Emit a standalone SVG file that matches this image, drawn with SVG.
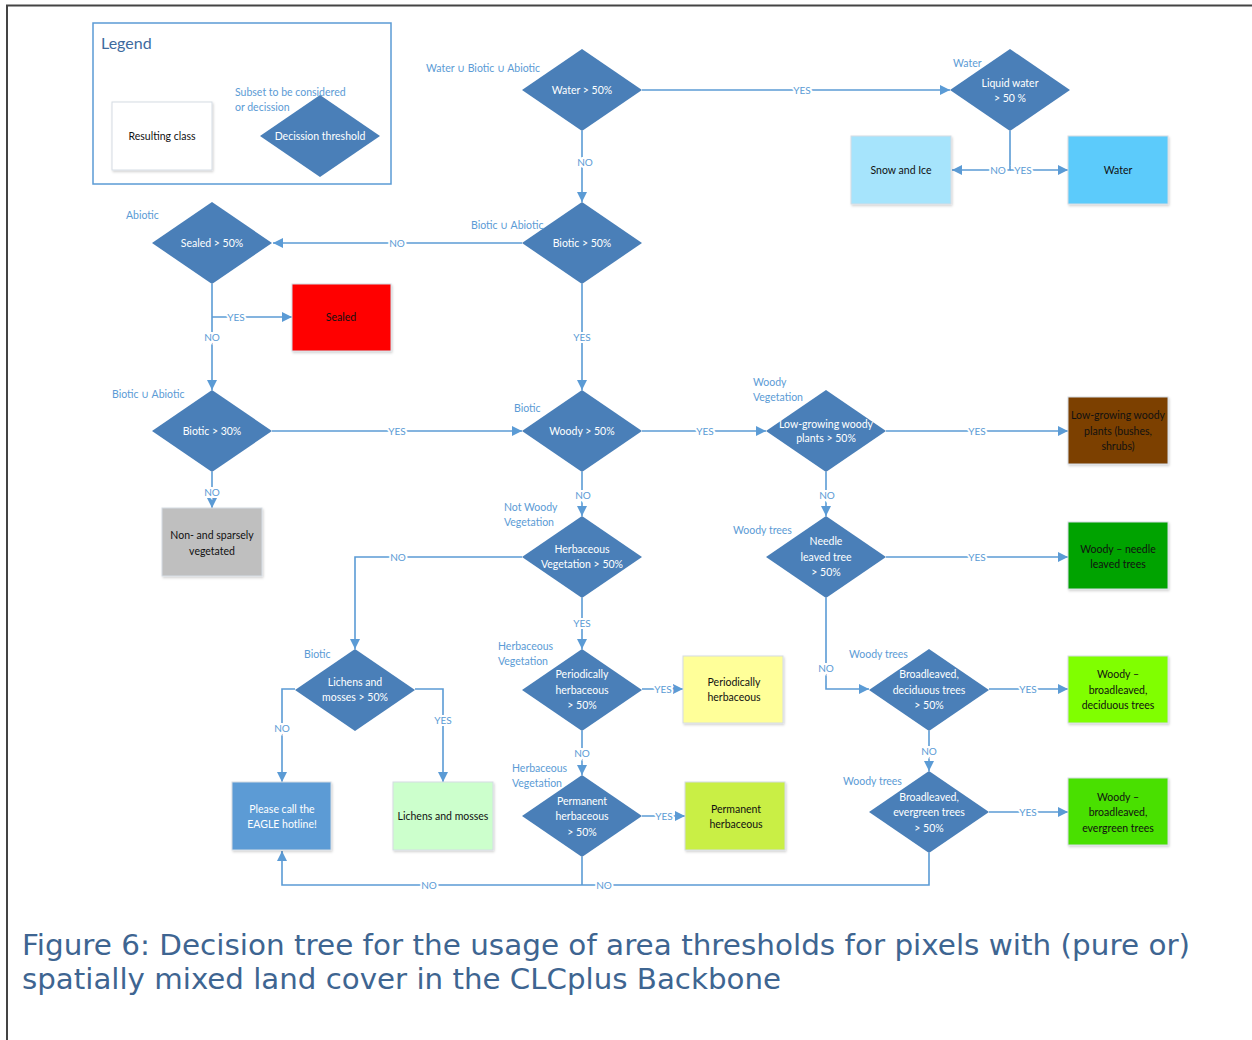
<svg xmlns="http://www.w3.org/2000/svg" width="1252" height="1040" viewBox="0 0 1252 1040">
<style>
.dm{fill:#4a7fb8;}
.dt{font-family:Lato,"Open Sans","Liberation Sans",sans-serif;font-size:10.5px;fill:#ffffff;text-anchor:middle;}
.bt{font-family:Lato,"Open Sans","Liberation Sans",sans-serif;font-size:10.5px;fill:#111111;text-anchor:middle;}
.sub{font-family:Lato,"Open Sans","Liberation Sans",sans-serif;font-size:10.5px;fill:#5b9bd5;}
.bx{stroke:#d5dce4;stroke-width:1;filter:url(#sh);}
.cn{fill:none;stroke:#5b9bd5;stroke-width:1.6;}
.cl{font-family:Lato,"Open Sans","Liberation Sans",sans-serif;font-size:10px;fill:#5b9bd5;text-anchor:middle;stroke:#ffffff;stroke-width:4;paint-order:stroke;}
.cap{font-family:"DejaVu Sans","Liberation Sans",sans-serif;font-size:28px;fill:#3e6591;}
</style>
<defs>
<marker id="ah" viewBox="0 0 10 10" refX="10" refY="5" markerWidth="10" markerHeight="10" markerUnits="userSpaceOnUse" orient="auto">
<path d="M0,0 L10,5 L0,10 Z" fill="#5b9bd5"/>
</marker>
<filter id="sh" x="-10%" y="-10%" width="125%" height="125%">
<feDropShadow dx="1" dy="1.5" stdDeviation="1" flood-color="#000000" flood-opacity="0.18"/>
</filter>
</defs>
<rect x="0" y="0" width="1252" height="1040" fill="#ffffff"/>
<path d="M7,1040 L7,5.5 L1252,5.5" fill="none" stroke="#444444" stroke-width="2"/>

<g id="legend">
<rect x="93" y="23" width="298" height="161" fill="#ffffff" stroke="#5b9bd5" stroke-width="1.5"/>
<text x="101" y="49" font-family="Lato,'Open Sans','Liberation Sans',sans-serif" font-size="16" fill="#3e6a9e">Legend</text>
<rect class="bx" x="112" y="102" width="100" height="68" fill="#ffffff"/>
<text class="bt" x="162" y="140">Resulting class</text>
<text class="sub" x="235" y="96">Subset to be considered</text>
<text class="sub" x="235" y="111">or decission</text>
<polygon class="dm" points="320,95 380,136 320,177 260,136"/>
<text class="dt" x="320" y="140">Decission threshold</text>
</g>

<g id="connectors">
<path class="cn" d="M642,90 L950,90" marker-end="url(#ah)"/>
<text class="cl" x="802" y="94">YES</text>
<path class="cn" d="M582,131 L582,202" marker-end="url(#ah)"/>
<text class="cl" x="585" y="166">NO</text>
<path class="cn" d="M1010,131 L1010,170 L952,170" marker-end="url(#ah)"/>
<path class="cn" d="M1010,170 L1068,170" marker-end="url(#ah)"/>
<text class="cl" x="998" y="174">NO</text>
<text class="cl" x="1023" y="174">YES</text>
<path class="cn" d="M522,243 L273,243" marker-end="url(#ah)"/>
<text class="cl" x="397" y="247">NO</text>
<path class="cn" d="M582,284 L582,390" marker-end="url(#ah)"/>
<text class="cl" x="582" y="341">YES</text>
<path class="cn" d="M212,284 L212,390" marker-end="url(#ah)"/>
<path class="cn" d="M212,317 L292,317" marker-end="url(#ah)"/>
<text class="cl" x="236" y="321">YES</text>
<text class="cl" x="212" y="341">NO</text>
<path class="cn" d="M272,431 L522,431" marker-end="url(#ah)"/>
<text class="cl" x="397" y="435">YES</text>
<path class="cn" d="M212,472 L212,508" marker-end="url(#ah)"/>
<text class="cl" x="212" y="496">NO</text>
<path class="cn" d="M642,431 L766,431" marker-end="url(#ah)"/>
<text class="cl" x="705" y="435">YES</text>
<path class="cn" d="M582,472 L582,516" marker-end="url(#ah)"/>
<text class="cl" x="583" y="499">NO</text>
<path class="cn" d="M886,431 L1068,431" marker-end="url(#ah)"/>
<text class="cl" x="977" y="435">YES</text>
<path class="cn" d="M826,472 L826,516" marker-end="url(#ah)"/>
<text class="cl" x="827" y="499">NO</text>
<path class="cn" d="M522,557 L355,557 L355,649" marker-end="url(#ah)"/>
<text class="cl" x="398" y="561">NO</text>
<path class="cn" d="M582,598 L582,649" marker-end="url(#ah)"/>
<text class="cl" x="582" y="627">YES</text>
<path class="cn" d="M886,557 L1068,557" marker-end="url(#ah)"/>
<text class="cl" x="977" y="561">YES</text>
<path class="cn" d="M826,598 L826,689 L869,689" marker-end="url(#ah)"/>
<text class="cl" x="826" y="672">NO</text>
<path class="cn" d="M295,689 L282,689 L282,782" marker-end="url(#ah)"/>
<text class="cl" x="282" y="732">NO</text>
<path class="cn" d="M415,689 L443,689 L443,782" marker-end="url(#ah)"/>
<text class="cl" x="443" y="724">YES</text>
<path class="cn" d="M642,689 L683,689" marker-end="url(#ah)"/>
<text class="cl" x="663" y="693">YES</text>
<path class="cn" d="M582,731 L582,775" marker-end="url(#ah)"/>
<text class="cl" x="582" y="757">NO</text>
<path class="cn" d="M989,689 L1068,689" marker-end="url(#ah)"/>
<text class="cl" x="1028" y="693">YES</text>
<path class="cn" d="M929,731 L929,771" marker-end="url(#ah)"/>
<text class="cl" x="929" y="755">NO</text>
<path class="cn" d="M642,816 L685,816" marker-end="url(#ah)"/>
<text class="cl" x="664" y="820">YES</text>
<path class="cn" d="M989,812 L1068,812" marker-end="url(#ah)"/>
<text class="cl" x="1028" y="816">YES</text>
<path class="cn" d="M929,853 L929,885 L282,885 L282,851" marker-end="url(#ah)"/>
<path class="cn" d="M582,857 L582,885"/>
<text class="cl" x="429" y="889">NO</text>
<text class="cl" x="604" y="889">NO</text>
</g>

<g id="n-water50">
<polygon class="dm" points="582,49 642,90 582,131 522,90"/>
<text class="dt" x="582" y="94">Water &gt; 50%</text>
<text class="sub" x="426" y="72">Water ∪ Biotic ∪ Abiotic</text>
</g>
<g id="n-liquid">
<polygon class="dm" points="1010,49 1070,90 1010,131 950,90"/>
<text class="dt" x="1010" y="87">Liquid water</text>
<text class="dt" x="1010" y="102">&gt; 50 %</text>
<text class="sub" x="953" y="67">Water</text>
</g>
<g id="n-snow">
<rect class="bx" x="851" y="136" width="100" height="68" fill="#a6e4fc"/>
<text class="bt" x="901" y="174">Snow and Ice</text>
</g>
<g id="n-waterbox">
<rect class="bx" x="1068" y="136" width="100" height="68" fill="#5bcbfb"/>
<text class="bt" x="1118" y="174">Water</text>
</g>
<g id="n-biotic50">
<polygon class="dm" points="582,202 642,243 582,284 522,243"/>
<text class="dt" x="582" y="247">Biotic &gt; 50%</text>
<text class="sub" x="471" y="229">Biotic ∪ Abiotic</text>
</g>
<g id="n-sealed50">
<polygon class="dm" points="212,202 272,243 212,284 152,243"/>
<text class="dt" x="212" y="247">Sealed &gt; 50%</text>
<text class="sub" x="126" y="219">Abiotic</text>
</g>
<g id="n-sealedbox">
<rect class="bx" x="292" y="284" width="99" height="67" fill="#ff0000"/>
<text class="bt" x="341" y="321">Sealed</text>
</g>
<g id="n-biotic30">
<polygon class="dm" points="212,390 272,431 212,472 152,431"/>
<text class="dt" x="212" y="435">Biotic &gt; 30%</text>
<text class="sub" x="112" y="398">Biotic ∪ Abiotic</text>
</g>
<g id="n-nonveg">
<rect class="bx" x="162" y="508" width="100" height="68" fill="#bfbfbf"/>
<text class="bt" x="212" y="539">Non- and sparsely</text>
<text class="bt" x="212" y="555">vegetated</text>
</g>
<g id="n-woody50">
<polygon class="dm" points="582,390 642,431 582,472 522,431"/>
<text class="dt" x="582" y="435">Woody &gt; 50%</text>
<text class="sub" x="514" y="412">Biotic</text>
</g>
<g id="n-lowgrow">
<polygon class="dm" points="826,390 886,431 826,472 766,431"/>
<text class="dt" x="826" y="428">Low-growing woody</text>
<text class="dt" x="826" y="442">plants &gt; 50%</text>
<text class="sub" x="753" y="386">Woody</text>
<text class="sub" x="753" y="401">Vegetation</text>
</g>
<g id="n-lowgrowbox">
<rect class="bx" x="1068" y="397" width="100" height="67" fill="#7b3f00"/>
<text class="bt" x="1118" y="419">Low-growing woody</text>
<text class="bt" x="1118" y="435">plants (bushes,</text>
<text class="bt" x="1118" y="450">shrubs)</text>
</g>
<g id="n-herb50">
<polygon class="dm" points="582,516 642,557 582,598 522,557"/>
<text class="dt" x="582" y="553">Herbaceous</text>
<text class="dt" x="582" y="568">Vegetation &gt; 50%</text>
<text class="sub" x="504" y="511">Not Woody</text>
<text class="sub" x="504" y="526">Vegetation</text>
</g>
<g id="n-needle">
<polygon class="dm" points="826,516 886,557 826,598 766,557"/>
<text class="dt" x="826" y="545">Needle</text>
<text class="dt" x="826" y="561">leaved tree</text>
<text class="dt" x="826" y="576">&gt; 50%</text>
<text class="sub" x="733" y="534">Woody trees</text>
</g>
<g id="n-needlebox">
<rect class="bx" x="1068" y="522" width="100" height="67" fill="#00a300"/>
<text class="bt" x="1118" y="553">Woody – needle</text>
<text class="bt" x="1118" y="568">leaved trees</text>
</g>
<g id="n-lichens50">
<polygon class="dm" points="355,649 415,690 355,731 295,690"/>
<text class="dt" x="355" y="686">Lichens and</text>
<text class="dt" x="355" y="701">mosses &gt; 50%</text>
<text class="sub" x="304" y="658">Biotic</text>
</g>
<g id="n-eagle">
<rect class="bx" x="232" y="782" width="99" height="68" fill="#5b9bd5"/>
<text class="dt" x="282" y="813">Please call the</text>
<text class="dt" x="282" y="828">EAGLE hotline!</text>
</g>
<g id="n-lichensbox">
<rect class="bx" x="393" y="782" width="100" height="68" fill="#ccffcc"/>
<text class="bt" x="443" y="820">Lichens and mosses</text>
</g>
<g id="n-period50">
<polygon class="dm" points="582,649 642,690 582,731 522,690"/>
<text class="dt" x="582" y="678">Periodically</text>
<text class="dt" x="582" y="694">herbaceous</text>
<text class="dt" x="582" y="709">&gt; 50%</text>
<text class="sub" x="498" y="650">Herbaceous</text>
<text class="sub" x="498" y="665">Vegetation</text>
</g>
<g id="n-periodbox">
<rect class="bx" x="683" y="656" width="100" height="67" fill="#ffff99"/>
<text class="bt" x="734" y="686">Periodically</text>
<text class="bt" x="734" y="701">herbaceous</text>
</g>
<g id="n-perm50">
<polygon class="dm" points="582,775 642,816 582,857 522,816"/>
<text class="dt" x="582" y="805">Permanent</text>
<text class="dt" x="582" y="820">herbaceous</text>
<text class="dt" x="582" y="836">&gt; 50%</text>
<text class="sub" x="512" y="772">Herbaceous</text>
<text class="sub" x="512" y="787">Vegetation</text>
</g>
<g id="n-permbox">
<rect class="bx" x="685" y="782" width="100" height="68" fill="#c9ef45"/>
<text class="bt" x="736" y="813">Permanent</text>
<text class="bt" x="736" y="828">herbaceous</text>
</g>
<g id="n-decid50">
<polygon class="dm" points="929,649 989,690 929,731 869,690"/>
<text class="dt" x="929" y="678">Broadleaved,</text>
<text class="dt" x="929" y="694">deciduous trees</text>
<text class="dt" x="929" y="709">&gt; 50%</text>
<text class="sub" x="849" y="658">Woody trees</text>
</g>
<g id="n-decidbox">
<rect class="bx" x="1068" y="656" width="100" height="67" fill="#80ff00"/>
<text class="bt" x="1118" y="678">Woody –</text>
<text class="bt" x="1118" y="694">broadleaved,</text>
<text class="bt" x="1118" y="709">deciduous trees</text>
</g>
<g id="n-ever50">
<polygon class="dm" points="929,771 989,812 929,853 869,812"/>
<text class="dt" x="929" y="801">Broadleaved,</text>
<text class="dt" x="929" y="816">evergreen trees</text>
<text class="dt" x="929" y="832">&gt; 50%</text>
<text class="sub" x="843" y="785">Woody trees</text>
</g>
<g id="n-everbox">
<rect class="bx" x="1068" y="778" width="100" height="67" fill="#48e000"/>
<text class="bt" x="1118" y="801">Woody –</text>
<text class="bt" x="1118" y="816">broadleaved,</text>
<text class="bt" x="1118" y="832">evergreen trees</text>
</g>

<g id="caption">
<text class="cap" x="22" y="955" textLength="1168" lengthAdjust="spacingAndGlyphs">Figure 6: Decision tree for the usage of area thresholds for pixels with (pure or)</text>
<text class="cap" x="22" y="989" textLength="759" lengthAdjust="spacingAndGlyphs">spatially mixed land cover in the CLCplus Backbone</text>
</g>
</svg>
